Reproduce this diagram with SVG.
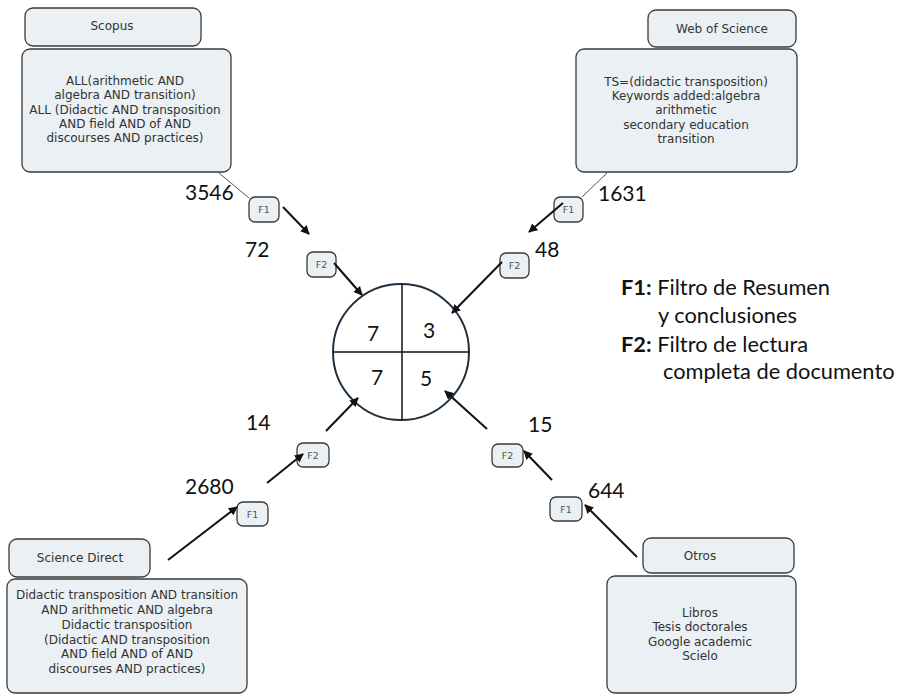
<svg xmlns="http://www.w3.org/2000/svg" width="902" height="695" viewBox="0 0 902 695">
<defs>
<marker id="ah" viewBox="0 0 10 10" refX="9" refY="5" markerWidth="4.5" markerHeight="4.5" orient="auto" markerUnits="strokeWidth">
<path d="M0,0 L10,5 L0,10 z" fill="#111"/>
</marker>
<style>
.box{fill:#eaf0f3;stroke:#3a3a3a;stroke-width:1.3}
.bt{font-family:"DejaVu Sans",Verdana,sans-serif;font-size:12px;fill:#333;text-anchor:middle}
.fl{font-family:"DejaVu Sans",Verdana,sans-serif;font-size:9.5px;fill:#555;text-anchor:middle}
.num{font-family:Lato,"Liberation Sans",sans-serif;font-size:21px;fill:#111}
.arr{stroke:#111;stroke-width:2;fill:none;marker-end:url(#ah)}
.thin{stroke:#555;stroke-width:1;fill:none}
.leg{font-family:Lato,"Liberation Sans",sans-serif;font-size:21.8px;fill:#111}
</style>
</defs>
<rect width="902" height="695" fill="#fff"/>

<g id="scopus">
<rect class="box" x="25" y="8" width="176" height="38" rx="8"/>
<text class="bt" x="112" y="30">Scopus</text>
<rect class="box" x="22" y="49" width="209" height="123" rx="8"/>
<text class="bt" x="125" y="85">ALL(arithmetic AND</text>
<text class="bt" x="125" y="99">algebra AND transition)</text>
<text class="bt" x="125" y="114">ALL (Didactic AND transposition</text>
<text class="bt" x="125" y="128">AND field AND of AND</text>
<text class="bt" x="125" y="142">discourses AND practices)</text>
</g>

<g id="wos">
<rect class="box" x="648" y="10" width="148" height="37" rx="8"/>
<text class="bt" x="722" y="33">Web of Science</text>
<rect class="box" x="576" y="49" width="221" height="123" rx="8"/>
<text class="bt" x="686" y="86">TS=(didactic transposition)</text>
<text class="bt" x="686" y="100">Keywords added:algebra</text>
<text class="bt" x="686" y="114">arithmetic</text>
<text class="bt" x="686" y="129">secondary education</text>
<text class="bt" x="686" y="143">transition</text>
</g>

<g id="sciencedirect">
<rect class="box" x="9" y="539" width="141" height="38" rx="8"/>
<text class="bt" x="80" y="562">Science Direct</text>
<rect class="box" x="7" y="579" width="240" height="114" rx="8"/>
<text class="bt" x="127" y="599">Didactic transposition AND transition</text>
<text class="bt" x="127" y="614">AND arithmetic AND algebra</text>
<text class="bt" x="127" y="629">Didactic  transposition</text>
<text class="bt" x="127" y="644">(Didactic AND transposition</text>
<text class="bt" x="127" y="658">AND field AND of AND</text>
<text class="bt" x="127" y="673">discourses AND practices)</text>
</g>

<g id="otros">
<rect class="box" x="643" y="538" width="151" height="35" rx="8"/>
<text class="bt" x="700" y="560">Otros</text>
<rect class="box" x="607" y="576" width="189" height="117" rx="8"/>
<text class="bt" x="700" y="617">Libros</text>
<text class="bt" x="700" y="631">Tesis doctorales</text>
<text class="bt" x="700" y="646">Google academic</text>
<text class="bt" x="700" y="660">Scielo</text>
</g>

<g id="f1-scopus"><rect class="box" x="249" y="197" width="30" height="25" rx="6"/><text class="fl" x="264" y="213">F1</text></g>
<g id="f2-scopus"><rect class="box" x="307" y="252" width="29" height="25" rx="6"/><text class="fl" x="321.5" y="268">F2</text></g>
<g id="f1-wos"><rect class="box" x="554" y="197" width="29" height="25" rx="6"/><text class="fl" x="568.5" y="213">F1</text></g>
<g id="f2-wos"><rect class="box" x="500" y="253" width="29" height="25" rx="6"/><text class="fl" x="514.5" y="269">F2</text></g>
<g id="f1-sd"><rect class="box" x="237" y="502" width="31" height="24" rx="6"/><text class="fl" x="252.5" y="517.5">F1</text></g>
<g id="f2-sd"><rect class="box" x="297" y="443" width="32" height="24" rx="6"/><text class="fl" x="313" y="458.5">F2</text></g>
<g id="f1-otros"><rect class="box" x="550" y="497" width="32" height="24" rx="6"/><text class="fl" x="566" y="512.5">F1</text></g>
<g id="f2-otros"><rect class="box" x="492" y="444" width="31" height="23" rx="6"/><text class="fl" x="507.5" y="459">F2</text></g>

<g id="result">
<circle cx="401" cy="352" r="68" fill="#fff" stroke="#1e2f3e" stroke-width="2"/>
<line x1="402" y1="284" x2="402" y2="420" stroke="#111" stroke-width="1.5"/>
<line x1="333" y1="352" x2="469" y2="352" stroke="#111" stroke-width="1.5"/>
<text class="num" x="373" y="341" text-anchor="middle">7</text>
<text class="num" x="429" y="338" text-anchor="middle">3</text>
<text class="num" x="377" y="385" text-anchor="middle">7</text>
<text class="num" x="426" y="386" text-anchor="middle">5</text>
</g>

<g id="connectors">
<line class="thin" x1="219" y1="173" x2="249" y2="198"/>
<line class="thin" x1="607" y1="173" x2="582" y2="197"/>
<line class="arr" x1="283" y1="207" x2="309" y2="234"/>
<line class="arr" x1="334" y1="263" x2="362" y2="295"/>
<line class="arr" x1="563" y1="203" x2="529" y2="232"/>
<line class="arr" x1="502" y1="262" x2="452" y2="313"/>
<line class="arr" x1="168" y1="560" x2="237" y2="507"/>
<line class="arr" x1="267" y1="483" x2="303" y2="454"/>
<line class="arr" x1="326" y1="431" x2="358" y2="398"/>
<line class="arr" x1="637" y1="557" x2="585" y2="505"/>
<line class="arr" x1="552" y1="480" x2="524" y2="451"/>
<line class="arr" x1="487" y1="429" x2="445" y2="391"/>
</g>

<g id="counts">
<text class="num" x="185" y="200">3546</text>
<text class="num" x="245" y="257">72</text>
<text class="num" x="598" y="201">1631</text>
<text class="num" x="535" y="257">48</text>
<text class="num" x="246" y="430">14</text>
<text class="num" x="185" y="494">2680</text>
<text class="num" x="528" y="432">15</text>
<text class="num" x="588" y="498">644</text>
</g>

<g id="legend">
<text class="leg" x="621" y="295"><tspan font-weight="bold">F1:</tspan> Filtro de Resumen</text>
<text class="leg" x="658" y="323">y conclusiones</text>
<text class="leg" x="621" y="352"><tspan font-weight="bold">F2:</tspan> Filtro de lectura</text>
<text class="leg" x="663" y="379">completa de documento</text>
</g>
</svg>
